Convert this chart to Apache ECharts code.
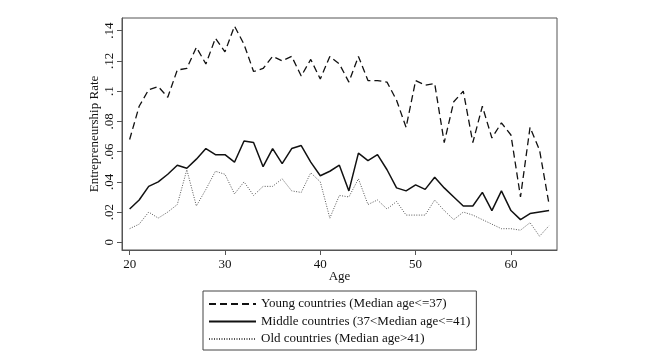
<!DOCTYPE html>
<html>
<head>
<meta charset="utf-8">
<script src="https://cdn.jsdelivr.net/npm/echarts@6/dist/echarts.min.js"></script>
<style>
html,body{margin:0;padding:0;background:#fff;}
#chart{width:660px;height:364px;}
</style>
</head>
<body>
<div id="chart"></div>
<script>
var ages = [20,21,22,23,24,25,26,27,28,29,30,31,32,33,34,35,36,37,38,39,40,41,42,43,44,45,46,47,48,49,50,51,52,53,54,55,56,57,58,59,60,61,62,63,64];
var young = [0.068,0.090,0.101,0.103,0.096,0.114,0.115,0.129,0.118,0.135,0.126,0.143,0.131,0.113,0.115,0.123,0.120,0.123,0.110,0.121,0.108,0.123,0.118,0.106,0.123,0.107,0.107,0.106,0.094,0.076,0.107,0.104,0.105,0.066,0.093,0.100,0.066,0.090,0.069,0.079,0.071,0.030,0.076,0.061,0.025];
var middle = [0.022,0.028,0.037,0.040,0.045,0.051,0.049,0.055,0.062,0.058,0.058,0.053,0.067,0.066,0.050,0.062,0.052,0.062,0.064,0.053,0.044,0.047,0.051,0.034,0.059,0.054,0.058,0.048,0.036,0.034,0.038,0.035,0.043,0.036,0.030,0.024,0.024,0.033,0.021,0.034,0.021,0.015,0.019,0.020,0.021];
var old = [0.009,0.012,0.020,0.016,0.020,0.025,0.048,0.024,0.035,0.047,0.045,0.032,0.040,0.031,0.037,0.037,0.042,0.034,0.033,0.046,0.040,0.016,0.031,0.030,0.042,0.025,0.028,0.022,0.027,0.018,0.018,0.018,0.028,0.021,0.015,0.020,0.018,0.015,0.012,0.009,0.009,0.008,0.013,0.004,0.011];
var seriesNames = ['Young countries (Median age<=37)','Middle countries (37<Median age<=41)','Old countries (Median age>41)'];
var xTicks = [20,30,40,50,60];
var yTicks = [0,0.02,0.04,0.06,0.08,0.1,0.12,0.14];
var yTickLabels = ['0','.02','.04','.06','.08','.1','.12','.14'];
var xName = 'Age';
var yName = 'Entrepreneurship Rate';

function pairs(arr){ return ages.map(function(a,i){ return [a, arr[i]]; }); }

var font = 'Liberation Serif';
var chart = echarts.init(document.getElementById('chart'), null, {renderer:'canvas'});
chart.setOption({
  backgroundColor:'#fff',
  animation:false,
  grid:{left:122, right:103, top:18, bottom:114, show:true, borderColor:'#555', borderWidth:1, containLabel:false},
  xAxis:{
    type:'value', min:19.2, max:64.83,
    name:xName, nameLocation:'middle', nameGap:20, nameMoveOverlap:false,
    nameTextStyle:{fontFamily:font, fontSize:13, color:'#111'},
    axisLine:{show:true, onZero:false, lineStyle:{color:'#555', width:1}},
    axisTick:{show:true, length:5, lineStyle:{color:'#555'}, customValues:xTicks},
    axisLabel:{fontFamily:font, fontSize:13, color:'#111', margin:8, customValues:xTicks},
    splitLine:{show:false}
  },
  yAxis:{
    type:'value', min:-0.0051, max:0.1484,
    name:yName, nameLocation:'middle', nameGap:21, nameRotate:90, nameMoveOverlap:false,
    nameTextStyle:{fontFamily:font, fontSize:13, color:'#111'},
    axisLine:{show:true, onZero:false, lineStyle:{color:'#555', width:1}},
    axisTick:{show:true, length:5, lineStyle:{color:'#555'}, customValues:yTicks},
    axisLabel:{fontFamily:font, fontSize:13, color:'#111', margin:6, rotate:90, customValues:yTicks,
      formatter:function(v){ var i = yTicks.findIndex(function(t){return Math.abs(t-v)<1e-9;}); return i>=0 ? yTickLabels[i] : ''; }},
    splitLine:{show:false}
  },
  legend:{
    orient:'vertical', left:203, top:291,
    padding:[6,6,4,5], itemGap:3.5, itemWidth:47, itemHeight:14,
    borderColor:'#444', borderWidth:1,
    itemStyle:{opacity:0, borderWidth:0},
    textStyle:{fontFamily:font, fontSize:13, color:'#111', lineHeight:14},
    data:seriesNames
  },
  series:[
    {name:seriesNames[0], type:'line', data:pairs(young), symbol:'none', lineStyle:{color:'#111', width:1.3, type:[7,4]}, itemStyle:{color:'#111'}},
    {name:seriesNames[1], type:'line', data:pairs(middle), symbol:'none', lineStyle:{color:'#111', width:1.5, type:'solid'}, itemStyle:{color:'#111'}},
    {name:seriesNames[2], type:'line', data:pairs(old), symbol:'none', lineStyle:{color:'#555', width:1, type:[1,1.5]}, itemStyle:{color:'#555'}}
  ]
});
</script>
</body>
</html>
